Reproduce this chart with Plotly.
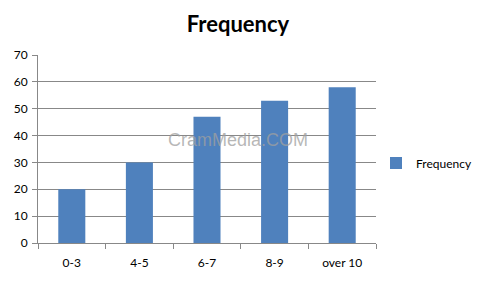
import plotly.graph_objects as go

categories = ["0-3", "4-5", "6-7", "8-9", "over 10"]
frequency = [20, 30, 47, 53, 58]
y_ticks = [0, 10, 20, 30, 40, 50, 60, 70]

W, H = 478, 281
L, R, T, B = 38, 102, 55, 38
PW, PH = W - L - R, H - T - B

fig = go.Figure()
fig.add_trace(go.Bar(
    x=categories, y=frequency, name="Frequency",
    marker=dict(color="#4F81BD", line=dict(width=0)),
))

fig.update_layout(
    width=W, height=H,
    margin=dict(l=L, r=R, t=T, b=B, pad=0, autoexpand=False),
    paper_bgcolor="white", plot_bgcolor="white",
    bargap=0.6,
    font=dict(family="Lato", size=12, color="#000"),
    title=dict(text="<b>Frequency</b>", x=238 / W, xanchor="center",
               xref="container", y=1 - 24 / H, yanchor="middle",
               yref="container",
               font=dict(family="Lato", size=22, color="#000")),
    showlegend=True,
    legend=dict(x=(376 - L) / PW, xanchor="left", y=(H - B - 163) / PH,
                yanchor="middle",
                font=dict(family="Lato", size=12, color="#000"),
                bgcolor="rgba(0,0,0,0)", borderwidth=0),
    xaxis=dict(
        type="category", showline=True, linecolor="#888", linewidth=1,
        ticks="outside", tickson="boundaries", ticklen=5, tickcolor="#888",
        showgrid=False, zeroline=False, ticklabelstandoff=9,
        tickfont=dict(family="Lato", size=12, color="#000"),
    ),
    yaxis=dict(
        range=[0, 70], tickvals=y_ticks, showline=True, linecolor="#888",
        linewidth=1, ticks="outside", ticklen=5, tickcolor="#888",
        showgrid=True, gridcolor="#888", gridwidth=1, zeroline=False,
        ticklabelstandoff=2,
        tickfont=dict(family="Lato", size=12, color="#000"),
    ),
)

fig.add_annotation(
    text="CramMedia.COM", xref="paper", yref="paper",
    x=(238 - L) / PW, y=(H - B - 140) / PH,
    xanchor="center", yanchor="middle", showarrow=False,
    font=dict(family="Liberation Sans", size=18, color="rgba(160,160,160,0.75)"),
)

fig.write_html("out.html")
